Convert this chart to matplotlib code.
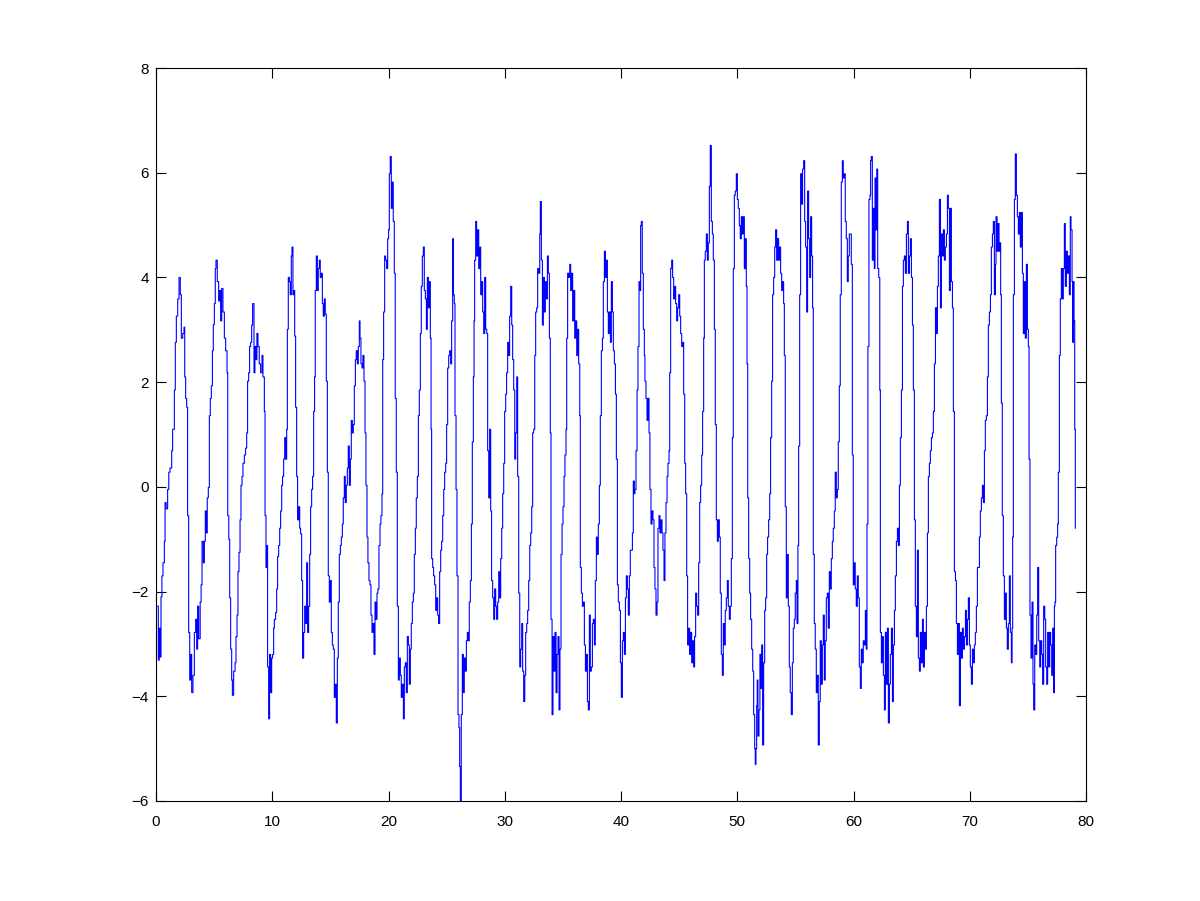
import matplotlib
matplotlib.use("Agg")
import matplotlib.pyplot as plt

# Traced time series, split into segments (time values t_*, signal values y_*)
t_a = [0.09, 0.2, 0.28, 0.37, 0.43, 0.51, 0.6, 0.72, 0.78, 0.87,
       1.0, 1.1, 1.2, 1.35, 1.43, 1.58, 1.66, 1.75, 1.87, 1.98,
       2.09, 2.18, 2.3, 2.41, 2.47, 2.55, 2.64, 2.72, 2.81, 2.9,
       2.98, 3.07, 3.18, 3.3, 3.41, 3.5, 3.58, 3.67, 3.8, 3.88,
       3.96, 4.07, 4.16, 4.24, 4.33, 4.41, 4.5, 4.59, 4.67, 4.76,
       4.85, 4.93, 5.02, 5.1, 5.16, 5.27, 5.39, 5.47, 5.56, 5.65,
       5.76, 5.88, 5.99, 6.11, 6.17, 6.26, 6.34, 6.42, 6.51, 6.57,
       6.68, 6.8, 6.88, 6.97, 7.05, 7.14, 7.23, 7.31, 7.4, 7.48,
       7.6, 7.71, 7.8, 7.88, 7.97, 8.05, 8.14, 8.23, 8.31, 8.43,
       8.51, 8.6, 8.68, 8.77, 8.88, 9.0, 9.12, 9.2, 9.32, 9.38,
       9.46, 9.52, 9.6, 9.69, 9.77, 9.86, 9.95, 10.03, 10.12]
y_a = [-2.28, -3.31, -2.7, -3.25, -2.1, -1.7, -1.45, -1.04, -0.3, -0.42,
       -0.05, 0.28, 0.36, 0.69, 1.1, 1.85, 2.76, 3.26, 3.59, 4.0,
       3.67, 2.84, 2.93, 3.05, 2.1, 1.69, 1.52, -0.55, -2.78, -3.69,
       -3.2, -3.93, -3.6, -2.78, -2.53, -3.1, -2.28, -2.9, -2.2, -1.87,
       -1.04, -1.45, -1.04, -0.46, -0.88, -0.21, -0.01, 1.36, 1.69, 1.93,
       2.6, 3.1, 3.5, 4.17, 4.33, 3.92, 3.55, 3.75, 3.17, 3.79,
       3.34, 2.84, 2.6, 2.18, -0.55, -1.0, -2.12, -3.1, -3.69, -3.98,
       -3.52, -3.36, -2.86, -2.45, -1.62, -1.25, -0.63, 0.03, 0.2, 0.45,
       0.61, 0.74, 1.03, 2.02, 2.18, 2.68, 2.76, 3.09, 3.5, 2.18,
       2.68, 2.43, 2.93, 2.68, 2.35, 2.18, 2.51, 2.1, 1.44, -0.55,
       -1.54, -1.12, -3.44, -4.43, -3.2, -3.93, -3.27, -3.2, -2.7]

t_b = [10.18, 10.29, 10.38, 10.46, 10.55, 10.64, 10.72, 10.81, 10.89, 10.98,
       11.07, 11.15, 11.24, 11.3, 11.38, 11.47, 11.55, 11.64, 11.7, 11.78,
       11.87, 11.93, 12.01, 12.1, 12.18, 12.27, 12.36, 12.44, 12.53, 12.61,
       12.7, 12.79, 12.87, 12.96, 13.04, 13.13, 13.22, 13.3, 13.39, 13.47,
       13.56, 13.64, 13.7, 13.79, 13.88, 13.96, 14.05, 14.13, 14.22, 14.31,
       14.39, 14.48, 14.56, 14.65, 14.74, 14.82, 14.91, 15.0, 15.08, 15.17,
       15.25, 15.34, 15.42, 15.51, 15.6, 15.68, 15.77, 15.86, 15.94, 16.03,
       16.11, 16.2, 16.28, 16.37, 16.46, 16.54, 16.63, 16.72, 16.8, 16.89,
       16.97, 17.06, 17.15, 17.23, 17.32, 17.4, 17.49, 17.55, 17.63, 17.72,
       17.8, 17.89, 17.98, 18.06, 18.15, 18.23, 18.32, 18.41, 18.49, 18.58,
       18.66, 18.75, 18.84, 18.92, 19.01, 19.09, 19.18, 19.27, 19.35, 19.44,
       19.5, 19.58, 19.67, 19.75, 19.84, 19.93, 20.01, 20.07, 20.15, 20.24,
       20.32, 20.41, 20.5, 20.58]
y_b = [-2.53, -2.4, -1.95, -1.33, -1.12, -0.79, -0.46, 0.03, 0.2, 0.53,
       0.94, 0.53, 1.1, 3.01, 4.0, 3.92, 3.67, 4.41, 4.58, 3.67,
       3.75, 2.88, 1.52, 0.2, -0.63, -0.38, -0.79, -0.9, -1.79, -3.27,
       -2.78, -2.28, -2.61, -1.45, -2.78, -2.28, -1.29, -0.38, -0.05, 0.2,
       1.44, 2.1, 3.75, 4.41, 3.75, 4.17, 4.33, 4.0, 4.08, 3.5,
       3.26, 3.59, 3.3, 2.02, 0.28, -1.7, -2.2, -1.79, -2.78, -3.02,
       -3.1, -4.02, -3.77, -4.51, -3.27, -2.2, -1.29, -1.12, -0.96, -0.71,
       -0.21, 0.2, -0.3, 0.03, 0.36, 0.78, 0.03, 0.53, 1.27, 1.03,
       1.19, 1.93, 2.43, 2.6, 2.35, 2.68, 3.17, 2.84, 2.35, 2.27,
       2.51, 2.02, 1.03, 0.03, -0.96, -1.45, -1.79, -1.87, -2.45, -2.78,
       -2.61, -3.2, -2.2, -2.53, -2.03, -1.95, -1.12, -0.71, -0.55, -0.13,
       2.43, 3.34, 4.41, 4.33, 4.17, 4.74, 4.91, 5.98, 6.31, 5.32,
       5.82, 5.07, 4.08, 1.69]

t_c = [20.67, 20.76, 20.85, 20.93, 21.02, 21.1, 21.19, 21.28, 21.36, 21.45,
       21.53, 21.62, 21.71, 21.79, 21.88, 21.96, 22.05, 22.14, 22.22, 22.31,
       22.39, 22.48, 22.57, 22.65, 22.74, 22.82, 22.91, 23.0, 23.08, 23.17,
       23.26, 23.34, 23.43, 23.51, 23.6, 23.66, 23.71, 23.8, 23.88, 23.97,
       24.06, 24.14, 24.23, 24.31, 24.4, 24.49, 24.57, 24.66, 24.75, 24.83,
       24.92, 25.0, 25.09, 25.18, 25.26, 25.35, 25.43, 25.52, 25.58, 25.66,
       25.72, 25.81, 25.89, 25.98, 26.06, 26.12, 26.18, 26.26, 26.35, 26.44,
       26.52, 26.61, 26.7, 26.78, 26.87, 26.95, 27.04, 27.13, 27.21, 27.3,
       27.36, 27.41, 27.5, 27.58, 27.67, 27.76, 27.84, 27.93, 28.01, 28.1,
       28.19, 28.27, 28.36, 28.45, 28.53, 28.62, 28.7, 28.79, 28.87, 28.96,
       29.05, 29.13, 29.22, 29.3, 29.39, 29.48, 29.56, 29.65, 29.74, 29.82,
       29.91, 29.99, 30.08, 30.16, 30.25, 30.34, 30.42, 30.51, 30.6, 30.68,
       30.77, 30.86]
y_c = [0.28, -2.28, -3.69, -3.27, -3.6, -4.02, -3.77, -4.43, -3.44, -3.36,
       -3.93, -2.86, -3.02, -3.77, -3.1, -2.61, -2.2, -2.03, -1.29, -0.79,
       -0.21, 0.2, 1.36, 1.85, 2.93, 3.83, 4.41, 4.58, 3.75, 3.59,
       3.01, 4.0, 3.42, 3.92, 2.84, 1.1, -1.37, -1.54, -1.7, -1.87,
       -2.36, -2.12, -2.45, -2.61, -1.62, -1.21, -1.04, -0.55, -0.05, 0.28,
       0.45, 1.19, 2.27, 2.51, 2.6, 2.35, 3.17, 4.74, 3.67, 3.5,
       1.36, -0.05, -1.7, -4.35, -4.6, -5.34, -6.0, -4.35, -3.2, -3.93,
       -3.27, -3.52, -2.94, -2.78, -2.94, -2.2, -1.79, -0.71, 0.86, 2.1,
       3.17, 4.33, 5.07, 4.41, 4.91, 4.17, 4.58, 3.67, 3.92, 3.34,
       2.93, 4.0, 3.01, 2.93, 0.69, -0.21, 1.1, -0.46, -1.79, -2.12,
       -2.53, -1.95, -2.28, -2.53, -2.2, -1.62, -2.12, -1.37, -0.79, -0.13,
       0.45, 1.44, 1.77, 2.18, 2.76, 2.51, 3.26, 3.83, 3.09, 2.43,
       1.85, 0.53]

t_d = [30.94, 31.03, 31.11, 31.2, 31.29, 31.37, 31.46, 31.54, 31.63, 31.72,
       31.8, 31.89, 31.97, 32.06, 32.15, 32.23, 32.32, 32.4, 32.49, 32.58,
       32.66, 32.75, 32.83, 32.92, 33.01, 33.06, 33.15, 33.24, 33.32, 33.41,
       33.49, 33.58, 33.67, 33.75, 33.84, 33.92, 33.98, 34.07, 34.15, 34.24,
       34.32, 34.41, 34.5, 34.58, 34.67, 34.75, 34.84, 34.93, 35.01, 35.1,
       35.18, 35.27, 35.33, 35.41, 35.5, 35.59, 35.67, 35.76, 35.84, 35.93,
       36.02, 36.1, 36.19, 36.28, 36.36, 36.45, 36.5, 36.59, 36.68, 36.76,
       36.85, 36.94, 37.02, 37.11, 37.19, 37.28, 37.36, 37.45, 37.54, 37.62,
       37.71, 37.79, 37.88, 37.97, 38.05, 38.14, 38.22, 38.31, 38.4, 38.48,
       38.57, 38.66, 38.74, 38.83, 38.91, 39.0, 39.09, 39.17, 39.26, 39.34,
       39.43, 39.52, 39.6, 39.69, 39.77, 39.86, 39.95, 40.03, 40.12, 40.2,
       40.29, 40.38, 40.46, 40.55, 40.63, 40.72, 40.8, 40.89, 40.98, 41.06,
       41.15]
y_d = [1.03, 2.1, 0.2, -2.03, -3.44, -3.1, -2.61, -3.52, -4.1, -3.6,
       -2.78, -2.61, -2.36, -1.79, -1.12, -0.88, -0.38, 1.03, 1.1, 2.51,
       3.34, 3.42, 4.17, 4.08, 4.83, 5.45, 4.33, 3.09, 4.0, 3.34,
       3.92, 3.59, 4.41, 4.08, 2.84, 1.03, -2.53, -4.35, -2.86, -3.52,
       -2.78, -3.93, -3.2, -2.86, -4.26, -3.1, -1.29, -0.71, -0.38, 0.2,
       0.61, 1.1, 2.84, 4.08, 4.0, 4.25, 3.75, 4.08, 3.17, 3.75,
       2.84, 3.17, 2.51, 3.01, 2.35, 1.36, -1.54, -2.03, -2.28, -2.2,
       -3.02, -3.52, -3.2, -4.1, -4.26, -2.45, -3.52, -3.44, -2.61, -2.53,
       -3.02, -1.79, -0.96, -1.29, -0.71, 0.03, 1.36, 2.6, 2.84, 3.92,
       4.5, 4.0, 4.33, 3.34, 2.93, 3.34, 2.76, 3.92, 3.34, 2.6,
       2.35, 1.77, 0.53, -1.87, -2.2, -2.36, -3.36, -4.02, -2.94, -2.78,
       -3.2, -2.12, -1.7, -1.95, -2.45, -1.7, -1.21, -1.21, -0.88, 0.11,
       -0.13]

t_e = [41.2, 41.29, 41.38, 41.46, 41.55, 41.63, 41.69, 41.75, 41.83, 41.92,
       42.01, 42.06, 42.15, 42.24, 42.32, 42.41, 42.49, 42.58, 42.67, 42.75,
       42.84, 42.92, 43.01, 43.1, 43.18, 43.27, 43.35, 43.44, 43.53, 43.61,
       43.7, 43.78, 43.87, 43.96, 44.04, 44.13, 44.19, 44.27, 44.36, 44.44,
       44.53, 44.62, 44.7, 44.79, 44.87, 44.96, 45.05, 45.13, 45.22, 45.3,
       45.39, 45.48, 45.56, 45.65, 45.73, 45.82, 45.9, 45.99, 46.08, 46.16,
       46.25, 46.33, 46.42, 46.51, 46.59, 46.68, 46.77, 46.85, 46.94, 47.02,
       47.11, 47.17, 47.25, 47.34, 47.43, 47.51, 47.6, 47.68, 47.77, 47.86,
       47.94, 48.03, 48.11, 48.2, 48.29, 48.37, 48.46, 48.54, 48.63, 48.72,
       48.8, 48.89, 48.97, 49.06, 49.15, 49.23, 49.32, 49.4, 49.49, 49.58,
       49.66, 49.75, 49.83, 49.92, 50.01, 50.09, 50.18, 50.26, 50.35, 50.44,
       50.52, 50.61, 50.7, 50.78, 50.84, 50.9, 50.98, 51.07, 51.15, 51.24]
y_e = [-0.05, 0.69, 1.85, 2.68, 3.92, 3.75, 4.99, 5.07, 4.08, 3.01,
       2.51, 2.02, 1.69, 1.27, 1.69, 1.03, -0.05, -0.71, -0.46, -0.63,
       -1.54, -1.95, -2.45, -2.2, -0.79, -0.55, -0.88, -0.63, -0.88, -1.21,
       -1.79, -0.88, -0.3, 0.2, 0.45, 0.69, 2.18, 4.17, 4.33, 4.0,
       3.59, 3.83, 3.5, 3.17, 3.42, 3.67, 3.26, 2.93, 2.68, 2.76,
       1.77, 0.45, -0.13, -1.7, -3.02, -2.7, -3.2, -2.78, -3.36, -2.94,
       -3.44, -2.86, -2.03, -2.28, -2.45, -1.45, -0.3, 0.03, 0.61, 1.44,
       2.84, 4.33, 4.5, 4.83, 4.33, 4.66, 5.74, 6.52, 5.07, 4.83,
       4.33, 3.01, 1.19, -0.63, -1.04, -0.63, -0.96, -2.03, -3.2, -3.6,
       -2.61, -3.02, -2.36, -2.12, -1.79, -2.28, -2.53, -2.28, -1.37, 0.94,
       4.17, 5.57, 5.65, 5.98, 5.49, 5.32, 4.99, 4.74, 5.16, 4.83,
       5.16, 4.17, 4.74, 3.83, 2.35, -0.21, -1.37, -2.03, -2.53, -3.1]

t_f = [51.33, 51.41, 51.5, 51.55, 51.61, 51.67, 51.72, 51.78, 51.87, 51.95,
       52.04, 52.1, 52.18, 52.27, 52.36, 52.44, 52.53, 52.61, 52.7, 52.79,
       52.87, 52.96, 53.04, 53.13, 53.22, 53.3, 53.39, 53.47, 53.56, 53.65,
       53.73, 53.82, 53.9, 53.99, 54.05, 54.13, 54.22, 54.31, 54.39, 54.48,
       54.56, 54.65, 54.74, 54.82, 54.91, 54.99, 55.08, 55.14, 55.22, 55.28,
       55.37, 55.45, 55.54, 55.62, 55.71, 55.8, 55.88, 55.97, 56.05, 56.14,
       56.23, 56.31, 56.4, 56.48, 56.54, 56.63, 56.71, 56.8, 56.89, 56.97,
       57.06, 57.14, 57.23, 57.32, 57.4, 57.49, 57.57, 57.66, 57.75, 57.83,
       57.92, 58.0, 58.09, 58.18, 58.26, 58.35, 58.43, 58.52, 58.61, 58.69,
       58.78, 58.86, 58.95, 59.04, 59.12, 59.21, 59.29, 59.38, 59.47, 59.55,
       59.64, 59.72, 59.81, 59.9, 59.98, 60.07, 60.15, 60.24, 60.33, 60.41,
       60.5, 60.59, 60.67, 60.76, 60.84, 60.93, 61.02, 61.1, 61.16, 61.24,
       61.33, 61.42, 61.47, 61.53, 61.62, 61.7, 61.79, 61.85]
y_f = [-3.52, -4.35, -5.0, -5.3, -5.0, -4.18, -3.69, -4.76, -4.26, -3.2,
       -3.85, -3.02, -4.93, -3.36, -2.36, -2.12, -1.29, -0.96, -0.63, -0.13,
       0.94, 2.02, 3.67, 4.0, 4.58, 4.91, 4.33, 4.74, 4.33, 4.58,
       4.08, 3.75, 3.92, 3.5, 2.51, -0.38, -2.12, -1.29, -2.28, -3.44,
       -3.93, -4.35, -3.36, -2.7, -2.53, -2.03, -1.79, -2.61, -1.12, 0.78,
       3.67, 5.98, 5.4, 6.07, 6.23, 5.07, 4.58, 3.34, 5.65, 4.74,
       4.0, 5.16, 4.41, 3.42, -1.29, -2.61, -3.1, -3.93, -3.6, -4.93,
       -4.1, -2.94, -3.77, -3.02, -2.45, -3.69, -2.94, -2.12, -2.03, -2.7,
       -1.62, -1.95, -1.37, -1.04, -0.79, -0.46, 0.28, -0.21, -0.05, 0.86,
       1.93, 3.67, 5.82, 6.23, 5.9, 5.98, 5.07, 4.74, 3.92, 4.41,
       4.83, 4.83, 4.25, 0.61, -1.87, -1.45, -1.95, -2.28, -1.7, -2.12,
       -3.44, -3.85, -3.1, -3.36, -2.94, -3.02, -2.36, -3.1, -0.71, 2.68,
       5.49, 5.57, 6.23, 6.31, 4.33, 5.32, 4.17, 5.9]

t_g = [61.91, 62.0, 62.08, 62.17, 62.26, 62.31, 62.4, 62.49, 62.57, 62.66,
       62.74, 62.83, 62.92, 63.0, 63.09, 63.17, 63.26, 63.35, 63.43, 63.52,
       63.6, 63.69, 63.78, 63.86, 63.95, 64.03, 64.12, 64.21, 64.29, 64.38,
       64.46, 64.55, 64.64, 64.72, 64.81, 64.89, 64.98, 65.07, 65.15, 65.24,
       65.32, 65.41, 65.5, 65.58, 65.67, 65.75, 65.84, 65.93, 66.01, 66.1,
       66.18, 66.27, 66.36, 66.44, 66.53, 66.61, 66.7, 66.79, 66.87, 66.96,
       67.05, 67.13, 67.22, 67.3, 67.39, 67.48, 67.56, 67.65, 67.73, 67.82,
       67.9, 67.99, 68.08, 68.16, 68.25, 68.33, 68.42, 68.51, 68.59, 68.68,
       68.77, 68.85, 68.94, 69.02, 69.11, 69.2, 69.28, 69.37, 69.45, 69.54,
       69.63, 69.71, 69.8, 69.88, 69.97, 70.05, 70.14, 70.23, 70.31, 70.4,
       70.48, 70.57, 70.66, 70.74, 70.83, 70.91, 71.0, 71.09, 71.17, 71.26,
       71.34, 71.43, 71.52, 71.6, 71.69, 71.78, 71.86, 71.95, 72.03, 72.12,
       72.21]
y_g = [4.91, 6.07, 4.17, 4.0, 1.85, -2.78, -3.36, -2.86, -3.6, -4.26,
       -2.78, -3.77, -2.7, -4.51, -3.77, -3.2, -2.7, -4.1, -3.02, -2.36,
       -1.7, -1.04, -0.79, -1.12, 0.03, 0.94, 1.85, 3.83, 4.33, 4.41,
       4.08, 4.83, 5.07, 4.08, 4.41, 4.74, 4.0, 3.09, 1.85, -0.63,
       -2.28, -2.86, -1.21, -3.27, -3.52, -2.78, -3.36, -2.53, -3.44, -2.78,
       -3.1, -2.28, -0.88, 0.2, 0.45, 0.69, 0.94, 1.03, 1.44, 2.35,
       3.42, 2.93, 3.83, 4.41, 5.49, 3.42, 4.83, 4.41, 4.91, 4.33,
       4.58, 4.83, 5.57, 5.32, 3.75, 5.32, 3.92, 3.42, 1.44, -1.62,
       -1.79, -2.61, -3.2, -2.61, -4.18, -2.78, -3.27, -2.7, -3.1, -2.86,
       -2.36, -3.02, -2.53, -2.12, -3.02, -3.44, -3.77, -3.1, -3.36, -3.02,
       -2.78, -2.28, -1.54, -1.54, -0.96, -0.46, -0.21, 0.03, -0.3, 0.69,
       1.27, 1.36, 2.1, 3.09, 3.34, 3.67, 4.58, 4.83, 5.07, 3.67,
       4.25]

t_h = [72.26, 72.35, 72.43, 72.52, 72.6, 72.66, 72.72, 72.8, 72.89, 72.98,
       73.06, 73.15, 73.23, 73.32, 73.41, 73.49, 73.58, 73.64, 73.69, 73.75,
       73.84, 73.92, 74.01, 74.1, 74.18, 74.27, 74.35, 74.44, 74.53, 74.61,
       74.7, 74.78, 74.87, 74.96, 75.04, 75.1, 75.18, 75.27, 75.36, 75.44,
       75.5, 75.59, 75.67, 75.76, 75.84, 75.93, 76.02, 76.1, 76.19, 76.27,
       76.36, 76.45, 76.53, 76.62, 76.7, 76.79, 76.88, 76.96, 77.05, 77.13,
       77.22, 77.28, 77.33, 77.39, 77.48, 77.56, 77.62, 77.71, 77.79, 77.88,
       77.96, 78.05, 78.14, 78.22, 78.31, 78.4, 78.48, 78.57, 78.65, 78.71,
       78.8, 78.86, 78.91, 78.97, 79.03, 79.08]
y_h = [5.16, 4.5, 5.03, 4.5, 4.66, 3.67, 1.6, -0.55, -1.7, -2.53,
       -2.03, -2.7, -3.1, -2.61, -1.7, -2.78, -3.36, -2.7, -0.96, 3.67,
       5.49, 6.36, 5.57, 5.16, 4.83, 5.24, 4.58, 5.24, 4.08, 2.93,
       3.92, 2.84, 4.25, 3.01, 2.68, 0.53, -2.45, -3.27, -2.2, -3.77,
       -4.26, -3.02, -3.2, -2.45, -1.54, -2.94, -3.44, -2.94, -3.2, -3.77,
       -2.28, -2.53, -3.44, -3.77, -2.78, -3.44, -2.78, -3.02, -3.6, -2.7,
       -3.93, -2.28, -2.2, -1.12, -0.96, -0.71, 0.28, 2.51, 3.59, 4.17,
       3.59, 4.17, 5.03, 3.83, 4.5, 4.08, 4.41, 3.67, 5.16, 4.91,
       3.92, 2.76, 3.92, 3.17, 1.1, -0.79]

x_ticks = [0, 10, 20, 30, 40, 50, 60, 70, 80]
y_ticks = [-6, -4, -2, 0, 2, 4, 6, 8]

t = []
y = []
for ts, ys in [(t_a, y_a), (t_b, y_b), (t_c, y_c), (t_d, y_d),
               (t_e, y_e), (t_f, y_f), (t_g, y_g), (t_h, y_h)]:
    n = min(len(ts), len(ys))
    t.extend(ts[:n])
    y.extend(ys[:n])

plt.rcParams['font.family'] = ['Liberation Sans', 'DejaVu Sans']

fig = plt.figure(figsize=(12, 9.01), dpi=100)
ax = fig.add_axes([0.13, 0.111, 0.775, 0.8135])
ax.plot(t, y, color='#0000ff', linewidth=0.8, drawstyle='steps-post')
ax.set_xlim(0, 80)
ax.set_ylim(-6, 8)
ax.set_xticks(x_ticks)
ax.set_yticks(y_ticks)
ax.tick_params(direction='in', length=7, width=0.8, top=True, right=True,
               labelsize=11, colors='black')
ax.tick_params(axis='x', pad=10)
ax.tick_params(axis='y', pad=5)
for s in ax.spines.values():
    s.set_linewidth(0.8)
fig.savefig('out.png', dpi=100, facecolor='white')
